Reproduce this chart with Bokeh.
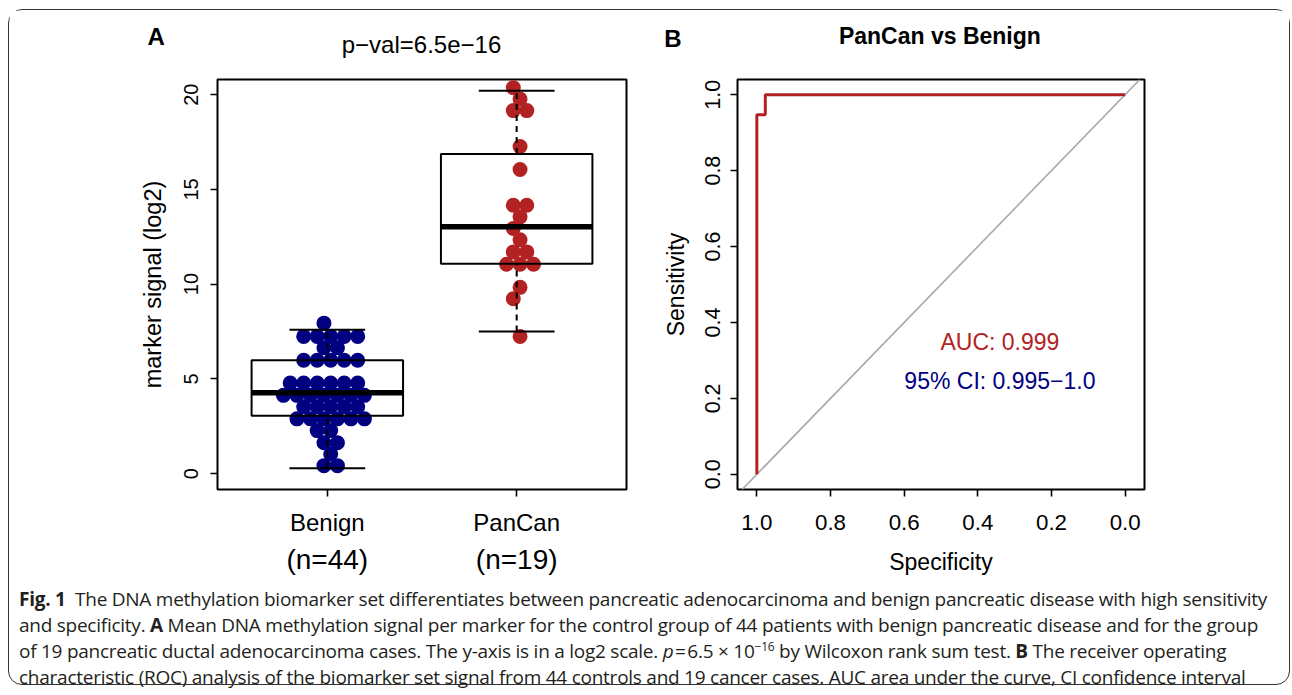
import numpy as np
from bokeh.plotting import figure
from bokeh.models import (Range1d, FixedTicker, LinearAxis, Label, Slope, Div,
                          PrintfTickFormatter, ColumnDataSource)
from bokeh.layouts import row, column
from bokeh.embed import file_html
from bokeh.resources import INLINE

# ---------------- data ----------------
categories = ["Benign", "PanCan"]
benign_values = [7.94,
                 7.24, 7.24, 7.24, 7.24, 7.24,
                 6.64, 6.64,
                 5.98, 5.98, 5.98, 5.98, 5.98,
                 4.78, 4.78, 4.78, 4.78, 4.78, 4.78,
                 4.13, 4.13, 4.13, 4.13, 4.13, 4.13, 4.13,
                 3.53, 3.53, 3.53, 3.53, 3.53,
                 2.89, 2.89, 2.89, 2.89, 2.89, 2.89,
                 2.27, 2.27,
                 1.63, 1.63,
                 1.03,
                 0.42, 0.42]
pancan_values = [20.37, 19.77, 19.16, 19.16, 17.26, 16.05, 14.16, 14.16, 13.55,
                 12.94, 12.34, 11.70, 11.70, 11.05, 11.05, 11.05, 9.83, 9.23, 7.24]
box_q1 = [3.05, 11.08]
box_median = [4.27, 13.03]
box_q3 = [5.98, 16.87]
whisker_low = [0.28, 7.50]
whisker_high = [7.59, 20.20]
y_ticks_a = [0, 5, 10, 15, 20]

roc_specificity = [1.0, 1.0, 0.977, 0.977, 0.0]
roc_sensitivity = [0.0, 0.947, 0.947, 1.0, 1.0]
roc_ticks = [0.0, 0.2, 0.4, 0.6, 0.8, 1.0]

p_value_text = "p&minus;val=6.5e&minus;16"
roc_title = "PanCan vs Benign"
auc_text = "AUC: 0.999"
ci_text = "95% CI: 0.995\u22121.0"

# ---------------- style ----------------
FONT = "Liberation Sans"
RED = "#B22222"
NAVY = "#000080"
GREY = "#A8A8A8"


def hex_swarm(values, center, dx, base, dy):
    rows = {}
    order = []
    for v in values:
        r = int(round((v - base) / dy))
        if r not in rows:
            rows[r] = []
            order.append(r)
        rows[r].append(v)
    xs, ys = [], []
    for r in order:
        off = -dx / 4 if r % 2 == 0 else dx / 4
        ks = sorted(range(-12, 13), key=lambda k: abs(off + k * dx))
        for i, v in enumerate(rows[r]):
            xs.append(center + off + ks[i] * dx)
            ys.append(v)
    return xs, ys


def style_axis(ax, size):
    ax.axis_line_color = None
    ax.major_tick_out = 7
    ax.major_tick_in = 0
    ax.major_tick_line_width = 1.6
    ax.major_tick_line_color = "black"
    ax.minor_tick_line_color = None
    ax.major_label_text_font = FONT
    ax.major_label_text_font_size = size
    ax.major_label_text_color = "black"
    ax.axis_label_text_font = FONT
    ax.axis_label_text_font_style = "normal"
    ax.axis_label_text_color = "black"


def base_fig(p):
    p.xgrid.visible = False
    p.ygrid.visible = False
    p.outline_line_color = "black"
    p.outline_line_width = 2
    p.outline_line_alpha = 1
    p.background_fill_color = "white"
    p.border_fill_color = "white"


# ---------------- panel A ----------------
pA = figure(width=631, height=594, x_range=Range1d(0.42, 2.58),
            y_range=Range1d(-0.84, 20.8), output_backend="svg", title=None,
            toolbar_location=None, min_border_left=208, min_border_right=14,
            min_border_top=64, min_border_bottom=112)
base_fig(pA)

positions = [i + 1 for i in range(len(categories))]
allv = benign_values + pancan_values
base = min(allv)
bx, by = hex_swarm(benign_values, positions[0], 0.0713, base, 0.627)
px_, py_ = hex_swarm(pancan_values, positions[1], 0.0713, base, 0.627)
pA.scatter(bx, by, size=15, color=NAVY, line_color=None)
pA.scatter(px_, py_, size=15, color=RED, line_color=None)

half = 0.4
src = ColumnDataSource(dict(
    x=positions, q1=box_q1, med=box_median, q3=box_q3,
    lo=whisker_low, hi=whisker_high,
    left=[x - half for x in positions], right=[x + half for x in positions],
    cl=[x - half / 2 for x in positions], cr=[x + half / 2 for x in positions]))
pA.segment(x0="x", y0="q3", x1="x", y1="hi", source=src, line_color="black",
           line_width=2, line_dash="6 5")
pA.segment(x0="x", y0="lo", x1="x", y1="q1", source=src, line_color="black",
           line_width=2, line_dash="6 5")
pA.segment(x0="cl", y0="hi", x1="cr", y1="hi", source=src, line_color="black", line_width=2)
pA.segment(x0="cl", y0="lo", x1="cr", y1="lo", source=src, line_color="black", line_width=2)
pA.quad(left="left", right="right", bottom="q1", top="q3", source=src,
        fill_color=None, line_color="black", line_width=2)
pA.segment(x0="left", y0="med", x1="right", y1="med", source=src,
           line_color="black", line_width=5.5)

ax = pA.xaxis[0]
style_axis(ax, "24px")
ax.ticker = FixedTicker(ticks=positions)
ax.major_label_overrides = {p: c for p, c in zip(positions, categories)}
ax.major_label_standoff = 12

counts = [len(benign_values), len(pancan_values)]
ax2 = LinearAxis(ticker=FixedTicker(ticks=positions))
style_axis(ax2, "28px")
ax2.major_tick_out = 0
ax2.major_tick_line_color = None
ax2.major_label_standoff = 5
ax2.major_label_overrides = {p: f"(n={n})" for p, n in zip(positions, counts)}
pA.add_layout(ax2, "below")

ay = pA.yaxis[0]
style_axis(ay, "20px")
ay.ticker = FixedTicker(ticks=y_ticks_a)
ay.major_label_orientation = "vertical"
ay.major_label_standoff = 12
ay.axis_label = "marker signal (log2)"
ay.axis_label_text_font_size = "23.5px"
ay.axis_label_standoff = 16

# ---------------- panel B ----------------
pB = figure(width=649, height=594, x_range=Range1d(1.0525, -0.0525),
            y_range=Range1d(-0.04, 1.04), output_backend="svg", title=None,
            toolbar_location=None, min_border_left=97, min_border_right=145,
            min_border_top=69, min_border_bottom=115)
base_fig(pB)

pB.add_layout(Slope(gradient=-1, y_intercept=1, line_color=GREY, line_width=1.6,
                    level="underlay"))
pB.line(roc_specificity, roc_sensitivity, line_color=RED, line_width=3)

bxa = pB.xaxis[0]
style_axis(bxa, "22.3px")
bxa.ticker = FixedTicker(ticks=roc_ticks)
bxa.formatter = PrintfTickFormatter(format="%.1f")
bxa.major_label_standoff = 18
bxa.axis_label = "Specificity"
bxa.axis_label_text_font_size = "23px"
bxa.axis_label_standoff = 16

bya = pB.yaxis[0]
style_axis(bya, "21.5px")
bya.ticker = FixedTicker(ticks=roc_ticks)
bya.formatter = PrintfTickFormatter(format="%.1f")
bya.major_label_orientation = "vertical"
bya.major_label_standoff = 10
bya.axis_label = "Sensitivity"
bya.axis_label_text_font_size = "23px"
bya.axis_label_standoff = 14

pB.add_layout(Label(x=0.34, y=0.348, text=auc_text, text_font=FONT,
                    text_font_size="23px", text_color=RED, text_align="center",
                    text_baseline="middle"))
pB.add_layout(Label(x=0.34, y=0.247, text=ci_text, text_font=FONT,
                    text_font_size="23px", text_color=NAVY, text_align="center",
                    text_baseline="middle"))

# ---------------- headings (placed over the panels) + caption ----------------
def heading(text, left, top, width, size, weight):
    return ("<span style='position:absolute; z-index:20; left:%spx; top:%spx; width:%dpx; "
            "text-align:center; font-family:\"Liberation Sans\"; font-size:%spx; "
            "line-height:%spx; font-weight:%s; letter-spacing:0; color:#000;'>%s</span>"
            % (left, top, width, size, size, weight, text))


headings = (heading("A", 87.2, -560.7, 100, 24, "bold")
            + heading(p_value_text, 252.5, -553.2, 300, 24, "normal")
            + heading("B", 603.8, -559.0, 100, 24, "bold")
            + heading(roc_title, 720.9, -561.5, 400, 23, "bold"))

caption_html = (
    "<div style='position:relative'>" + headings +
    "<b>Fig. 1</b>&nbsp; The DNA methylation biomarker set differentiates between pancreatic "
    "adenocarcinoma and benign pancreatic disease with high sensitivity<br>"
    "and specificity. <b>A</b> Mean DNA methylation signal per marker for the control group "
    "of 44 patients with benign pancreatic disease and for the group<br>"
    "of 19 pancreatic ductal adenocarcinoma cases. The y-axis is in a log2 scale. "
    "<i>p</i>&#8202;=&#8202;6.5 &times; 10<span style='position:relative; top:-7px; "
    "font-size:12px; line-height:0'>&minus;16</span> by Wilcoxon rank sum test. "
    "<b>B</b> The receiver operating<br>"
    "characteristic (ROC) analysis of the biomarker set signal from 44 controls and 19 cancer "
    "cases. AUC area under the curve, CI confidence interval</div>")
caption = Div(text=caption_html, width=1262, height=98, margin=(-18, 0, 0, 10),
              styles={"font-family": "Open Sans", "font-size": "19px",
                      "line-height": "26px", "color": "#231f20",
                      "white-space": "nowrap", "overflow": "visible",
                      "letter-spacing": "-0.25px"})

layout = column(row(pA, pB), caption, margin=(9, 0, 0, 8),
                styles={"border": "1.5px solid #333", "border-radius": "14px",
                        "background": "white"})

open("out.html", "w").write(file_html(layout, INLINE))
